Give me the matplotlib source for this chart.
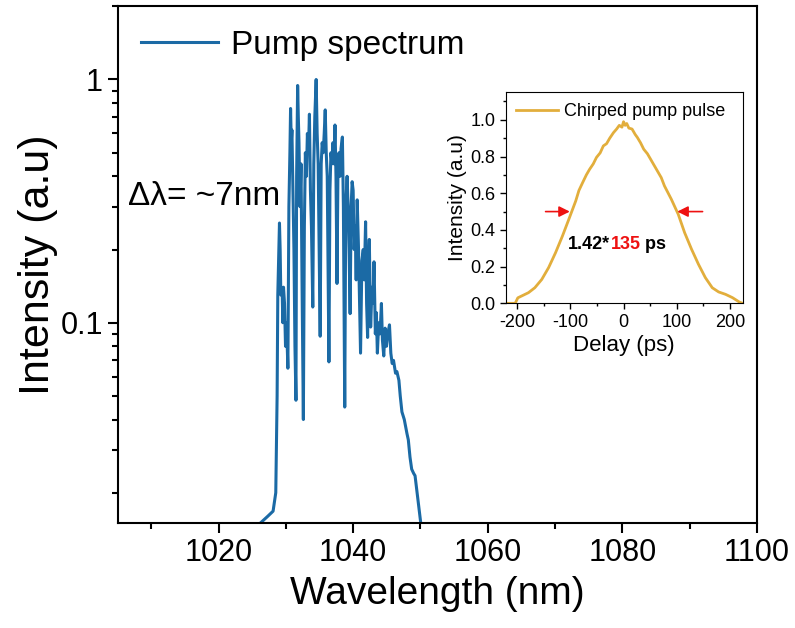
import numpy as np
import matplotlib
matplotlib.use('Agg')
import matplotlib.pyplot as plt
from matplotlib.ticker import MultipleLocator, LogLocator, NullFormatter

plt.rcParams['font.family'] = ['Liberation Sans', 'DejaVu Sans']
plt.rcParams['axes.unicode_minus'] = False

# pump spectrum (wavelength in nm, normalised intensity)
wavelength = [1026.2, 1027.3, 1028.1, 1028.5, 1028.7, 1028.8, 1028.95, 1029.05, 1029.15, 1029.25,
              1029.35, 1029.45, 1029.55, 1029.65, 1029.8, 1029.95, 1030.1, 1030.3, 1030.45, 1030.6,
              1030.7, 1030.8, 1030.9, 1031.05, 1031.2, 1031.35, 1031.5, 1031.6, 1031.75, 1031.85,
              1031.95, 1032.1, 1032.25, 1032.4, 1032.6, 1032.75, 1032.9, 1033.05, 1033.2, 1033.35,
              1033.5, 1033.65, 1033.8, 1034.0, 1034.15, 1034.3, 1034.5, 1034.65, 1034.8, 1034.95,
              1035.1, 1035.25, 1035.4, 1035.55, 1035.7, 1035.85, 1036.0, 1036.15, 1036.25, 1036.4,
              1036.55, 1036.7, 1036.85, 1037.0, 1037.15, 1037.3, 1037.45, 1037.6, 1037.75, 1037.9,
              1038.05, 1038.2, 1038.4, 1038.55, 1038.75, 1038.9, 1039.1, 1039.25, 1039.4, 1039.55,
              1039.7, 1039.85, 1040.0, 1040.15, 1040.3, 1040.45, 1040.6, 1040.8, 1040.95, 1041.1,
              1041.3, 1041.5, 1041.65, 1041.85, 1042.0, 1042.15, 1042.3, 1042.4, 1042.6, 1042.8,
              1042.95, 1043.1, 1043.3, 1043.45, 1043.6, 1043.8, 1044.0, 1044.2, 1044.35, 1044.55,
              1044.75, 1044.95, 1045.15, 1045.4, 1045.6, 1045.8, 1046.0, 1046.3, 1046.5, 1046.8,
              1047.0, 1047.25, 1047.6, 1048.0, 1048.2, 1048.45, 1048.7, 1049.0, 1049.2, 1049.6,
              1050.05]
spectrum = [0.015, 0.016, 0.0168, 0.02, 0.05, 0.13, 0.2, 0.257, 0.2, 0.13,
            0.14, 0.135, 0.1, 0.14, 0.12, 0.08, 0.1, 0.065, 0.3, 0.5,
            0.76, 0.55, 0.62, 0.35, 0.2, 0.08, 0.048, 0.4, 0.945, 0.7,
            0.55, 0.3, 0.45, 0.15, 0.04, 0.25, 0.5, 0.4, 0.6, 0.5,
            0.72, 0.35, 0.25, 0.116, 0.45, 0.7, 1.0, 0.6, 0.45, 0.2,
            0.088, 0.45, 0.55, 0.5, 0.6, 0.75, 0.5, 0.4, 0.2, 0.069,
            0.35, 0.5, 0.45, 0.55, 0.45, 0.65, 0.4, 0.145, 0.45, 0.5,
            0.4, 0.52, 0.58, 0.3, 0.045, 0.3, 0.40, 0.3, 0.2, 0.109,
            0.3, 0.38, 0.35, 0.2, 0.25, 0.15, 0.32, 0.2, 0.12, 0.075,
            0.18, 0.2, 0.15, 0.26, 0.12, 0.087, 0.18, 0.22, 0.096, 0.14,
            0.12, 0.178, 0.09, 0.11, 0.075, 0.1, 0.09, 0.12, 0.085, 0.073,
            0.095, 0.08, 0.09, 0.098, 0.075, 0.068, 0.07, 0.062, 0.063, 0.058,
            0.05, 0.043, 0.04, 0.035, 0.033, 0.028, 0.025, 0.024, 0.0235, 0.019,
            0.015]

# chirped pump pulse (delay in ps, normalised intensity)
delay = [-226, -204, -199, -189, -179, -167, -154, -141, -128, -115,
         -103, -90, -84, -77, -70, -64, -57, -51, -44, -38,
         -32, -26, -19, -13, -8, -3, 0, 3, 6, 10,
         16, 22, 26, 32, 38, 45, 51, 58, 64, 71,
         77, 90, 103, 115, 128, 141, 154, 167, 179, 192,
         205, 218, 224]
pulse = [0.0, 0.0, 0.03, 0.044, 0.058, 0.085, 0.13, 0.195, 0.276, 0.367,
         0.458, 0.558, 0.615, 0.658, 0.7, 0.73, 0.76, 0.795, 0.82, 0.858,
         0.87, 0.9, 0.93, 0.95, 0.97, 0.96, 0.99, 0.97, 0.98, 0.955,
         0.95, 0.92, 0.904, 0.875, 0.84, 0.815, 0.785, 0.75, 0.72, 0.685,
         0.64, 0.567, 0.485, 0.385, 0.295, 0.213, 0.14, 0.085, 0.062, 0.049,
         0.031, 0.007, 0.0]

fig = plt.figure(figsize=(7.95, 6.28), dpi=100)
ax = fig.add_axes([0.148, 0.167, 0.804, 0.823])
ax.semilogy(wavelength, spectrum, color='#1b6aa5', lw=2.2, label='Pump spectrum')
ax.set_xlim(1005, 1100)
ax.set_ylim(0.015, 2)
ax.set_xticks([1020, 1040, 1060, 1080, 1100])
ax.xaxis.set_minor_locator(MultipleLocator(10))
ax.set_yticks([0.1, 1])
ax.set_yticklabels(['0.1', '1'])
ax.yaxis.set_minor_locator(LogLocator(base=10, subs=np.arange(2, 10)))
ax.yaxis.set_minor_formatter(NullFormatter())
ax.tick_params(which='major', direction='out', length=7, width=1.5, labelsize=22)
ax.tick_params(which='minor', direction='out', length=4.5, width=1.5)
for s in ax.spines.values():
    s.set_linewidth(1.5)
ax.set_xlabel('Wavelength (nm)', fontsize=28, labelpad=6)
ax.set_ylabel('Intensity (a.u)', fontsize=31)
ax.yaxis.set_label_coords(-0.093, 0.5)
ax.legend(loc='upper left', frameon=False, fontsize=24, handlelength=2.3,
          handletextpad=0.4, bbox_to_anchor=(0.0, 1.0), borderaxespad=0.3)
ax.text(1006.6, 0.33, 'Δλ= ~7nm', fontsize=24, va='center')

# inset
axin = fig.add_axes([0.636, 0.517, 0.298, 0.336])
axin.plot(delay, pulse, color='#e2ae3c', lw=2, label='Chirped pump pulse')
axin.set_xlim(-222, 224)
axin.set_ylim(0, 1.15)
axin.set_xticks([-200, -100, 0, 100, 200])
axin.xaxis.set_minor_locator(MultipleLocator(50))
axin.set_yticks([0.0, 0.2, 0.4, 0.6, 0.8, 1.0])
axin.yaxis.set_minor_locator(MultipleLocator(0.1))
axin.tick_params(which='major', direction='out', length=4, width=1, labelsize=13)
axin.tick_params(which='minor', direction='out', length=2.5, width=1)
axin.set_xlabel('Delay (ps)', fontsize=16, labelpad=3)
axin.set_ylabel('Intensity (a.u)', fontsize=15, labelpad=2)
axin.legend(loc='upper left', frameon=False, fontsize=13, handlelength=2.3,
            handletextpad=0.35, borderaxespad=0.2)

arrow = dict(arrowstyle='-|>', color='#ee1111', lw=1.2, mutation_scale=16)
axin.annotate('', xy=(-96, 0.5), xytext=(-152, 0.5), arrowprops=arrow)
axin.annotate('', xy=(96, 0.5), xytext=(154, 0.5), arrowprops=arrow)

t1 = axin.text(-104, 0.32, '1.42*', fontsize=13, fontweight='bold', va='center')
t2 = axin.annotate('135', xy=(1, 0), xycoords=t1, va='bottom', fontsize=13,
                   fontweight='bold', color='#ee1111')
axin.annotate(' ps', xy=(1, 0), xycoords=t2, va='bottom', fontsize=13, fontweight='bold')

fig.savefig('out.png', dpi=100)
